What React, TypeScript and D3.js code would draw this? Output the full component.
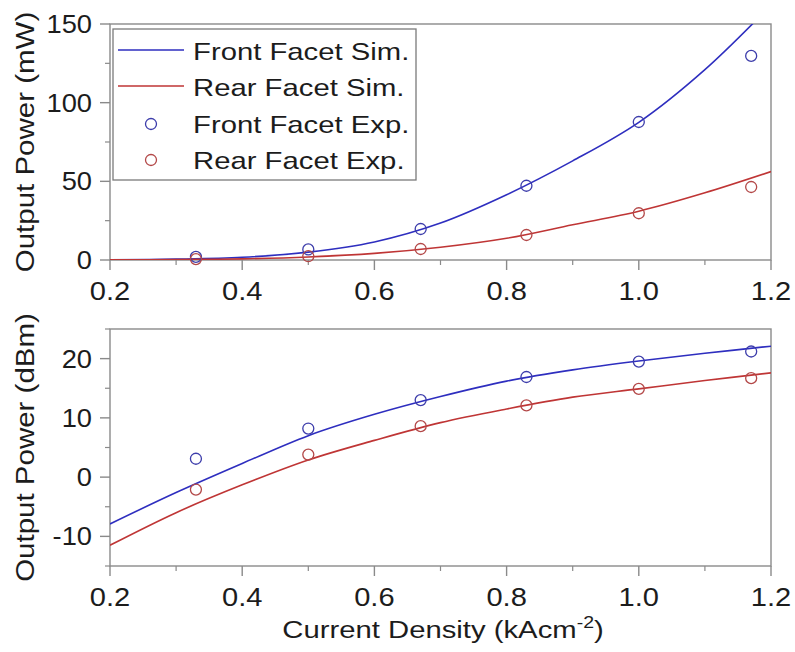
import React from 'react';
import * as d3 from 'd3';

// simulated curves, sampled every 0.1 kA/cm2
const simX = [0.2, 0.3, 0.4, 0.5, 0.6, 0.7, 0.8, 0.9, 1.0, 1.1, 1.2];
const frontSimMw = [0.16, 0.55, 1.7, 5.0, 11.5, 23.5, 41.5, 63, 87.5, 121, 162];
const rearSimMw = [0.07, 0.25, 0.74, 1.95, 4.2, 8.1, 13.8, 22.4, 31, 42.7, 56.2];
const frontSimDbm = [-7.9, -2.6, 2.3, 7.0, 10.6, 13.6, 16.2, 18.1, 19.6, 20.9, 22.1];
const rearSimDbm = [-11.5, -6.0, -1.3, 2.9, 6.2, 9.2, 11.5, 13.5, 14.9, 16.3, 17.6];

// measured points
const expX = [0.33, 0.5, 0.67, 0.83, 1.0, 1.17];
const frontExpMw = [2.0, 6.7, 19.7, 47.2, 87.7, 129.7];
const rearExpMw = [0.6, 2.4, 7.0, 15.9, 29.7, 46.4];
const frontExpDbm = [3.1, 8.2, 13.0, 16.9, 19.5, 21.2];
const rearExpDbm = [-2.1, 3.8, 8.6, 12.1, 14.9, 16.7];

const xTicks = [0.2, 0.4, 0.6, 0.8, 1.0, 1.2];
const xMinor = [0.3, 0.5, 0.7, 0.9, 1.1];
const mwTicks = [0, 50, 100, 150];
const mwMinor = [25, 75, 125];
const dbmTicks = [-10, 0, 10, 20];
const dbmMinor = [-15, -5, 5, 15, 25];

const legendItems = [
  { label: 'Front Facet Sim.', kind: 'line', color: '#2e2ebf' },
  { label: 'Rear Facet Sim.', kind: 'line', color: '#bf3535' },
  { label: 'Front Facet Exp.', kind: 'circle', color: '#3d3dab' },
  { label: 'Rear Facet Exp.', kind: 'circle', color: '#b34848' },
];

const FONT = '"Liberation Sans", Arial, sans-serif';
const AXIS = '#8a8a8a';
const INK = '#1c1c1c';
const BLUE = '#2e2ebf';
const RED = '#bf3535';
const BLUE_C = '#3d3dab';
const RED_C = '#b34848';

function Txt({ x, y, size, sx = 1.15, anchor = 'start', rotate = 0, children }: any) {
  return (
    <text
      transform={`translate(${x},${y}) rotate(${rotate}) scale(${sx},1)`}
      textAnchor={anchor}
      fontSize={size}
      fontFamily={FONT}
      fill={INK}
    >
      {children}
    </text>
  );
}

function Panel({ top, bottom, yDomain, yTicks, yMinor, frontSim, rearSim, frontExp, rearExp, yLabel, clipId }: any) {
  const left = 110;
  const right = 771;
  const x = d3.scaleLinear().domain([0.2, 1.2]).range([left, right]);
  const y = d3.scaleLinear().domain(yDomain).range([bottom, top]);

  const line = d3
    .line<number>()
    .x((_, i) => x(simX[i]))
    .y((d) => y(d))
    .curve(d3.curveCatmullRom.alpha(0.5));

  return (
    <g>
      <defs>
        <clipPath id={clipId}>
          <rect x={left} y={top} width={right - left} height={bottom - top} />
        </clipPath>
      </defs>

      {/* frame */}
      <rect x={left} y={top} width={right - left} height={bottom - top} fill="none" stroke={AXIS} strokeWidth={1.4} />

      {/* y ticks */}
      {yTicks.map((t: number) => (
        <g key={'y' + t}>
          <line x1={left - 10} x2={left} y1={y(t)} y2={y(t)} stroke={AXIS} strokeWidth={1.4} />
          <Txt x={92} y={y(t) + 9} size={26} sx={1.05} anchor="end">{t}</Txt>
        </g>
      ))}
      {yMinor.map((t: number) => (
        <line key={'ym' + t} x1={left - 5} x2={left} y1={y(t)} y2={y(t)} stroke={AXIS} strokeWidth={1.2} />
      ))}

      {/* x ticks */}
      {xTicks.map((t: number) => (
        <g key={'x' + t}>
          <line x1={x(t)} x2={x(t)} y1={bottom} y2={bottom + 10} stroke={AXIS} strokeWidth={1.4} />
          <Txt x={x(t)} y={bottom + 40} size={26} sx={1.12} anchor="middle">{t.toFixed(1)}</Txt>
        </g>
      ))}
      {xMinor.map((t: number) => (
        <line key={'xm' + t} x1={x(t)} x2={x(t)} y1={bottom} y2={bottom + 5} stroke={AXIS} strokeWidth={1.2} />
      ))}

      {/* y label */}
      <Txt x={34} y={(top + bottom) / 2} size={25} sx={1.18} anchor="middle" rotate={-90}>{yLabel}</Txt>

      {/* simulated curves */}
      <g clipPath={`url(#${clipId})`}>
        <path d={line(frontSim) || ''} fill="none" stroke={BLUE} strokeWidth={1.6} />
        <path d={line(rearSim) || ''} fill="none" stroke={RED} strokeWidth={1.6} />
      </g>

      {/* experimental points */}
      {frontExp.map((v: number, i: number) => (
        <circle key={'fe' + i} cx={x(expX[i])} cy={y(v)} r={5.5} fill="none" stroke={BLUE_C} strokeWidth={1.3} />
      ))}
      {rearExp.map((v: number, i: number) => (
        <circle key={'re' + i} cx={x(expX[i])} cy={y(v)} r={5.5} fill="none" stroke={RED_C} strokeWidth={1.3} />
      ))}
    </g>
  );
}

export default function App() {
  const rowY = [51, 87, 124, 160];
  return (
    <svg width={795} height={652} style={{ position: 'absolute', left: 0, top: 0, background: '#fff' }}>
      <Panel
        top={24}
        bottom={260}
        yDomain={[0, 150]}
        yTicks={mwTicks}
        yMinor={mwMinor}
        frontSim={frontSimMw}
        rearSim={rearSimMw}
        frontExp={frontExpMw}
        rearExp={rearExpMw}
        yLabel="Output Power (mW)"
        clipId="clipTop"
      />
      <Panel
        top={329}
        bottom={566}
        yDomain={[-15, 25]}
        yTicks={dbmTicks}
        yMinor={dbmMinor}
        frontSim={frontSimDbm}
        rearSim={rearSimDbm}
        frontExp={frontExpDbm}
        rearExp={rearExpDbm}
        yLabel="Output Power (dBm)"
        clipId="clipBottom"
      />

      {/* legend */}
      <rect x={113} y={29} width={303} height={151} fill="#fff" stroke="#7a7a7a" strokeWidth={1.3} />
      {legendItems.map((d, i) => (
        <g key={d.label}>
          {d.kind === 'line' ? (
            <line x1={118} x2={184} y1={rowY[i] - 1} y2={rowY[i] - 1} stroke={d.color} strokeWidth={1.6} />
          ) : (
            <circle cx={151} cy={rowY[i]} r={5.5} fill="none" stroke={d.color} strokeWidth={1.3} />
          )}
          <Txt x={193} y={rowY[i] + 9} size={24} sx={1.22}>{d.label}</Txt>
        </g>
      ))}

      {/* x title */}
      <Txt x={443} y={638} size={24} sx={1.22} anchor="middle">
        Current Density (kAcm<tspan fontSize={16} dy={-10}>-2</tspan><tspan dy={10}>)</tspan>
      </Txt>
    </svg>
  );
}
